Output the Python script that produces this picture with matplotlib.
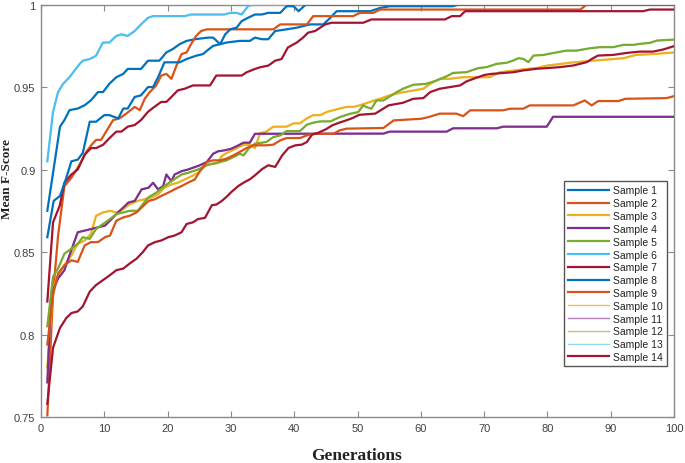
import matplotlib
matplotlib.use("Agg")
import matplotlib.pyplot as plt

# ---------------- data (generation, mean F-score) ----------------
sample1 = [(1,.875),(3,.926),(3.7,.930),(4.5,.936),(5.8,.937),(6.9,.939),(7.9,.942),(9,.947),(9.8,.947),
           (10.8,.952),(11.9,.956),(13,.958),(13.7,.961),(15.8,.961),(16.9,.966),(18.7,.966),(19.8,.971),
           (20.8,.973),(21.9,.976),(23,.978),(24.3,.979),(26.4,.980),(27.2,.980),(28.3,.976),(29.3,.977),
           (31.4,.978),(33,.978),(33.8,.980),(34.9,.979),(35.9,.979),(37,.984),(38.8,.985),(40.4,.986),
           (42.5,.988),(44.6,.988),(45.7,.992),(46.7,.996),(52,.996),(53.6,.998),(55.1,.999),(65,.999),
           (66,1.0),(100,1.0)]
sample2 = [(1,.751),(1.9,.824),(2.7,.860),(3.7,.890),(4.8,.895),(6.1,.903),(7.2,.911),(8,.915),(8.7,.918),
           (9.5,.918),(10.6,.925),(11.4,.930),(12.4,.931),(13.5,.934),(14.8,.938),(15.6,.936),(16.4,.943),
           (17.2,.947),(18.2,.951),(19,.957),(19.8,.958),(20.6,.955),(21.4,.963),(22.2,.970),(23,.971),
           (23.7,.976),(24.5,.981),(25.3,.984),(26.2,.985),(36.7,.985),(37.8,.988),(42,.988),(43,.993),
           (49.3,.993),(50.4,.995),(52.5,.995),(53.6,.997),(85.2,.997),(86.2,1.0),(100,1.0)]
sample3 = [(1,.780),(1.9,.828),(2.7,.836),(3.7,.842),(4.8,.848),(5.8,.855),(6.9,.857),(7.9,.861),(8.7,.872),
           (9.8,.874),(10.9,.875),(11.9,.874),(13,.876),(14,.879),(15.3,.881),(16.4,.882),(17.4,.883),
           (18.5,.885),(19.5,.889),(20.6,.891),(21.6,.892),(22.7,.894),(23.8,.896),(24.8,.898),(26.2,.903),
           (28,.904),(28.5,.908),(29.3,.910),(30.4,.912),(32,.915),(33,.915),(33.8,.913),(34.6,.922),
           (35.6,.923),(36.7,.926),(38.8,.926),(39.9,.928),(40.9,.928),(42,.931),(43,.933),(44.1,.933),
           (45.2,.935),(46.2,.936),(47.2,.937),(48.3,.938),(49.4,.938),(50.4,.939),(52,.941),(53.6,.943),
           (55.1,.945),(56.7,.9465),(58.9,.948),(60.4,.949),(61.5,.952),(63,.955),(64.6,.955),(66.7,.956),
           (70.9,.956),(72.5,.959),(74.6,.960),(76.7,.961),(78.3,.9615),(79.9,.963),(82,.964),(84.1,.965),
           (87.2,.966),(90.4,.967),(92,.9675),(94,.9695),(96.7,.970),(100,.971)]
sample4 = [(1,.771),(1.6,.824),(2.7,.834),(3.7,.839),(4.5,.848),(5.8,.862),(6.9,.863),(8,.864),(9,.865),
           (10.1,.866),(10.9,.869),(11.9,.873),(13,.877),(13.8,.880),(14.8,.881),(15.9,.888),(17,.889),
           (17.7,.892),(18.5,.888),(19.3,.890),(19.8,.897),(20.6,.893),(21.1,.897),(22.2,.899),(23.2,.900),
           (25.1,.9026),(26.2,.9046),(27.2,.9096),(28,.9111),(29.1,.9117),(30.1,.9127),(31.2,.9147),
           (32,.9163),(33,.9163),(33.8,.9217),(54.1,.9218),(55.1,.923),(64.1,.923),(65.1,.925),(72,.925),
           (73,.926),(79.9,.926),(80.9,.932),(100,.932)]
sample5 = [(1,.805),(1.9,.835),(2.7,.840),(3.7,.849),(4.8,.852),(5.8,.855),(6.6,.859),(7.7,.858),(8.7,.864),
           (9.8,.867),(10.9,.870),(11.9,.873),(13,.874),(14,.875),(15.3,.875),(15.9,.878),(16.9,.883),
           (18.2,.886),(19.5,.890),(20.6,.893),(22.2,.897),(23.2,.898),(24.8,.900),(26.2,.9026),(27.2,.9036),
           (28.3,.9046),(29.3,.9056),(30.4,.9076),(31.4,.9096),(32,.9086),(32.8,.9127),(33.8,.9157),
           (35.6,.9167),(36.7,.9197),(37.8,.9207),(38.8,.9233),(40.9,.9233),(42,.9272),(43,.9284),
           (44.1,.9292),(45.7,.9292),(47.2,.9318),(48.8,.9338),(50.1,.9348),(50.9,.9389),(51.4,.9379),
           (52.2,.9369),(53,.9419),(54.1,.9419),(56.2,.9470),(57.2,.9490),(58.8,.9514),(60.9,.9520),
           (62.5,.9540),(64.1,.9566),(65.1,.9586),(67.2,.9590),(68.3,.9605),(69.1,.9615),(70.4,.9621),
           (72,.9641),(73.5,.9647),(74.6,.9661),(75.4,.9675),(76.2,.9671),(77,.9651),(77.8,.9691),
           (79.4,.9695),(81,.9707),(83,.9721),(84.6,.9721),(86.7,.9735),(88.3,.9742),(90.4,.9742),
           (92,.9756),(93.6,.9756),(94.6,.9762),(96.2,.9768),(97.3,.9782),(100,.9788)]
sample6 = [(1,.905),(1.9,.935),(2.7,.947),(3.5,.952),(4.5,.956),(5.3,.960),(6.1,.964),(6.6,.966),(7.7,.967),
           (8.7,.969),(9.5,.975),(9.8,.977),(10.8,.977),(11.9,.981),(12.7,.982),(13.7,.981),(14.8,.984),
           (15.8,.988),(16.9,.992),(17.7,.993),(22.7,.993),(23.7,.994),(29,.994),(29.9,.995),(30.9,.995),
           (31.7,.994),(32.7,.999),(33.5,1.0),(100,1.0)]
sample7 = [(1,.820),(1.9,.868),(2.95,.878),(3.7,.892),(4.8,.897),(5.8,.900),(6.9,.909),(7.9,.913),(8.7,.913),
           (9.8,.915),(10.8,.919),(11.9,.923),(12.7,.923),(13.7,.926),(14.8,.927),(15.8,.930),(16.9,.935),
           (17.9,.938),(19,.941),(19.8,.941),(20.6,.944),(21.6,.948),(22.7,.949),(24,.951),(26.7,.951),
           (27.7,.957),(31.7,.957),(32.5,.959),(33.8,.961),(34.6,.962),(35.9,.963),(37,.966),(38,.967),
           (39,.974),(40.4,.977),(41.4,.980),(42.2,.983),(43.3,.984),(44.9,.988),(45.9,.989),(50.9,.989),
           (52.2,.991),(63.8,.991),(64.9,.993),(66.2,.993),(67,.996),(95.1,.996),(96.2,.997),(100,.997)]
sample8 = [(1,.859),(2,.881),(3,.884),(4,.895),(4.8,.905),(5.8,.906),(6.6,.910),(7.7,.929),(8.7,.929),
           (10,.933),(10.8,.933),(12.2,.931),(13,.937),(13.7,.937),(14.8,.944),(15.8,.945),(16.9,.950),
           (17.7,.950),(18.5,.956),(19.5,.965),(21.9,.965),(23,.967),(24.5,.969),(25.6,.970),(26.2,.972),
           (27.2,.975),(28.3,.976),(29.1,.982),(29.9,.985),(30.9,.986),(31.7,.990),(32.7,.992),(33.8,.994),
           (34.9,.994),(35.9,.995),(37.8,.995),(38.8,.999),(39.9,.999),(40.7,.996),(41.8,1.0),(100,1.0)]
sample9 = [(1,.794),(1.9,.824),(2.7,.837),(3.7,.842),(4.8,.845),(5.8,.844),(6.9,.854),(7.9,.856),(9,.856),
           (10.1,.859),(10.9,.860),(11.9,.869),(13,.871),(14,.872),(15.1,.874),(15.9,.877),(17,.881),
           (18,.882),(19,.884),(20.1,.886),(21.1,.888),(22.2,.890),(23.2,.892),(24.3,.894),(25.1,.899),
           (26.2,.9046),(27.2,.9056),(28.3,.9056),(29.3,.9066),(30.4,.9086),(31.4,.9107),(32.5,.9131),
           (33.5,.9147),(35.6,.9147),(36.7,.9151),(37.8,.9177),(38.8,.9191),(40.9,.9191),(42,.9207),
           (43,.9217),(46.2,.9217),(47.2,.9238),(48.3,.9248),(54.1,.9252),(55.7,.9298),(60.1,.9308),
           (61.2,.9318),(63,.9339),(65.6,.9339),(66.7,.9324),(67.8,.9359),(73,.9359),(74.1,.9369),
           (76.2,.9369),(77.2,.9389),(84.1,.9389),(85.9,.9419),(87,.9389),(88,.9415),(91.2,.9415),
           (92.3,.9429),(98.8,.9433),(100,.9445)]
sample14 = [(1,.758),(1.9,.792),(3,.804),(4,.810),(4.8,.813),(5.8,.814),(6.6,.817),(7.7,.826),(8.7,.830),
            (9.8,.833),(10.9,.836),(11.9,.839),(13,.840),(14,.843),(15.1,.846),(16.1,.850),(16.9,.854),
            (18,.856),(19,.857),(20.1,.859),(21.1,.860),(22.2,.862),(23,.867),(24,.868),(24.8,.870),
            (25.9,.8707),(27,.8784),(27.7,.8788),(28.5,.8808),(29.3,.8834),(30.1,.8865),(31.2,.8901),
            (32.2,.8925),(33,.8941),(33.8,.8965),(34.9,.9002),(35.9,.9026),(37,.9016),(38.1,.9086),
            (39.1,.9131),(40.2,.9147),(41.2,.9151),(42,.9167),(42.8,.9211),(43.8,.9223),(45,.9244),
            (46,.9268),(47.1,.9284),(48.2,.9298),(49.2,.9312),(50.3,.9332),(52.8,.9339),(54.9,.9389),
            (57.2,.9405),(58.8,.9429),(60.4,.9433),(61.5,.9470),(63,.9490),(64.6,.9500),(66.2,.9510),
            (67.2,.9534),(68.6,.9554),(70.1,.9574),(71.2,.9580),(72.5,.9584),(74.6,.9590),(76.2,.9601),
            (78.3,.9611),(79.9,.9615),(82,.9621),(84.1,.9631),(86.2,.9651),(87.2,.9675),(88,.9691),
            (90.4,.9695),(92.5,.9707),(94.6,.9715),(96.7,.9715),(98.3,.9728),(100,.9748)]
# thin series 10-13 are hidden beneath the thick ones (they follow samples 3, 4, 5, 6)
sample10 = sample3
sample11 = sample4
sample12 = sample5
sample13 = sample6

labels = [f"Sample {i}" for i in range(1, 15)]
x_ticks = list(range(0, 101, 10))
y_ticks = [0.75, 0.8, 0.85, 0.9, 0.95, 1.0]
y_tick_labels = ["0.75", "0.8", "0.85", "0.9", "0.95", "1"]

# ---------------- style ----------------
blue, orange, yellow, purple = "#0072BD", "#D95319", "#EDB120", "#7E2F8E"
green, lblue, dred = "#77AC30", "#4DBEEE", "#A2142F"
series = [sample1, sample2, sample3, sample4, sample5, sample6, sample7, sample8, sample9,
          sample10, sample11, sample12, sample13, sample14]
colors = [blue, orange, yellow, purple, green, lblue, dred, blue, orange,
          "#F2C04A", "#B57FC0", "#A9CF7F", "#8FD6F4", dred]
widths = [1.6] * 9 + [1.0] * 4 + [1.6]

fig = plt.figure(figsize=(6.85, 4.64), dpi=100)
ax = fig.add_axes([41 / 685, 1 - 418 / 464, 633 / 685, (418 - 5.6) / 464])

for data, c, lw, lab in zip(series, colors, widths, labels):
    xs = [p[0] for p in data]
    ys = [p[1] for p in data]
    ax.plot(xs, ys, color=c, lw=lw, label=lab, zorder=3 if lw > 1.2 else 2)

ax.set_xlim(0, 100)
ax.set_ylim(0.75, 1.0)
ax.set_xticks(x_ticks)
ax.set_yticks(y_ticks)
ax.set_yticklabels(y_tick_labels)

axis_col = "#8a8a8a"
for s in ax.spines.values():
    s.set_color(axis_col)
    s.set_linewidth(1.0)
ax.tick_params(direction="in", top=True, right=True, length=4, width=0.8,
               color=axis_col, labelcolor="#404040", labelsize=8, pad=4)
for lab in ax.get_xticklabels() + ax.get_yticklabels():
    lab.set_fontfamily("Liberation Sans")

fig.text(357 / 685, 1 - 456 / 464, "Generations", ha="center", va="center",
         fontfamily="Liberation Serif", fontweight="bold", fontsize=12.5, color="#222222")
fig.text(7 / 685, 1 - 179 / 464, "Mean F-Score", ha="center", va="center", rotation=90,
         fontfamily="Liberation Serif", fontweight="bold", fontsize=9.5, color="#222222")

leg = ax.legend(loc="upper right", bbox_to_anchor=(0.989, 0.5715), borderaxespad=0,
                prop={"family": "Liberation Sans", "size": 7.5}, handlelength=4.0,
                handletextpad=0.35, labelspacing=0.27, borderpad=0.4,
                fancybox=False, framealpha=1, edgecolor="#555555")
leg.get_frame().set_linewidth(1.0)
for t in leg.get_texts():
    t.set_color("#222222")

fig.savefig("out.png", dpi=100)
